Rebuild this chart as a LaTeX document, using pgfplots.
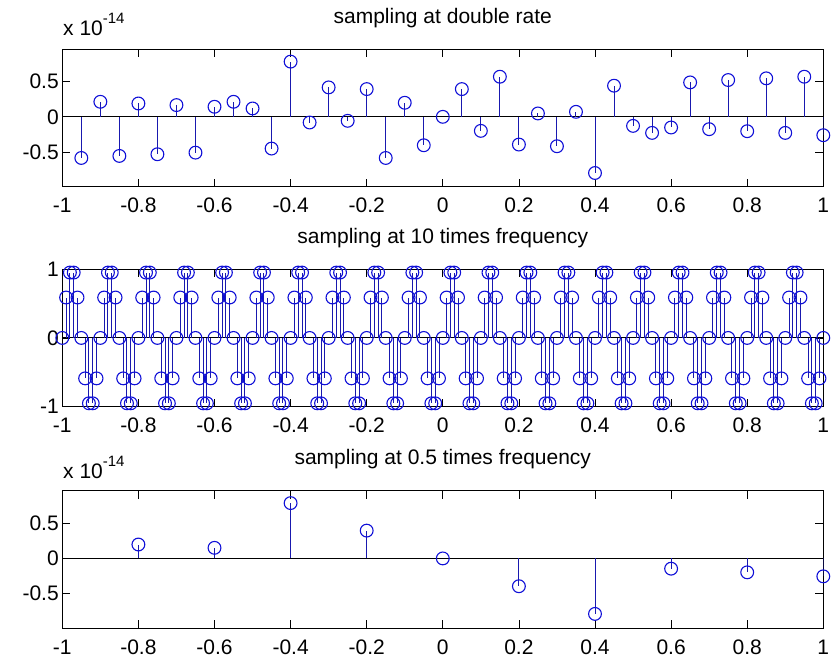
\documentclass[border=0pt]{standalone}
\usepackage{fontspec}
\setmainfont{Liberation Sans}
\usepackage{pgfplots}
\pgfplotsset{compat=1.18}
\definecolor{stemc}{RGB}{25,25,175}
\definecolor{markc}{RGB}{15,15,215}
\pgfplotsset{
  mlab/.style={
    scale only axis, width=761pt, height=137.5pt,
    anchor=south west,
    xmin=-1, xmax=1,
    xtick={-1,-0.8,-0.6,-0.4,-0.2,0,0.2,0.4,0.6,0.8,1},
    tick align=inside, major tick length=8pt,
    tick style={black, line width=0.8pt},
    axis line style={line width=1.2pt},
    tick label style={font=\fontsize{21}{24}\selectfont},
    /pgf/number format/assume math mode=true,
    xticklabel style={yshift=-8pt},
    title style={font=\fontsize{21}{24}\selectfont, anchor=base, yshift=20pt},
    clip marker paths=false,
  },
  stem/.style={ycomb, color=stemc, line width=1pt, mark=o, mark size=6.4pt,
    mark options={draw=markc, line width=1.1pt}},
  base/.style={black, line width=0.9pt, forget plot},
}
\begin{document}
\begin{tikzpicture}
\useasboundingbox (0,0) rectangle (832pt,660pt);

% top: sampling at double rate
\begin{axis}[mlab, at={(62.3pt,473.3pt)},
  ymin=-0.995, ymax=0.963, ytick={-0.5,0,0.5},
  title={sampling at double rate}]
  \addplot[base] coordinates {(-1,0) (1,0)};
  \addplot[stem] coordinates {
    (-0.95,-0.586) (-0.90,0.214) (-0.85,-0.557) (-0.80,0.190) (-0.75,-0.533)
    (-0.70,0.167) (-0.65,-0.510) (-0.60,0.143) (-0.55,0.214) (-0.50,0.119)
    (-0.45,-0.452) (-0.40,0.786) (-0.35,-0.081) (-0.30,0.419) (-0.25,-0.057)
    (-0.20,0.395) (-0.15,-0.586) (-0.10,0.200) (-0.05,-0.405) (0.00,0.000)
    (0.05,0.395) (0.10,-0.200) (0.15,0.571) (0.20,-0.395) (0.25,0.048)
    (0.30,-0.419) (0.35,0.071) (0.40,-0.800) (0.45,0.443) (0.50,-0.129)
    (0.55,-0.229) (0.60,-0.152) (0.65,0.490) (0.70,-0.176) (0.75,0.524)
    (0.80,-0.205) (0.85,0.548) (0.90,-0.229) (0.95,0.571) (1.00,-0.262)};
\end{axis}

% middle: sampling at 10 times frequency
\begin{axis}[mlab, at={(62.3pt,253.3pt)},
  ymin=-1, ymax=1, ytick={-1,0,1},
  title={sampling at 10 times frequency}]
  \addplot[base] coordinates {(-1,0) (1,0)};
  \addplot[stem] coordinates {
    (-1.00,0) (-0.99,0.588) (-0.98,0.951) (-0.97,0.951) (-0.96,0.588) (-0.95,0) (-0.94,-0.588) (-0.93,-0.951) (-0.92,-0.951) (-0.91,-0.588)
    (-0.90,0) (-0.89,0.588) (-0.88,0.951) (-0.87,0.951) (-0.86,0.588) (-0.85,0) (-0.84,-0.588) (-0.83,-0.951) (-0.82,-0.951) (-0.81,-0.588)
    (-0.80,0) (-0.79,0.588) (-0.78,0.951) (-0.77,0.951) (-0.76,0.588) (-0.75,0) (-0.74,-0.588) (-0.73,-0.951) (-0.72,-0.951) (-0.71,-0.588)
    (-0.70,0) (-0.69,0.588) (-0.68,0.951) (-0.67,0.951) (-0.66,0.588) (-0.65,0) (-0.64,-0.588) (-0.63,-0.951) (-0.62,-0.951) (-0.61,-0.588)
    (-0.60,0) (-0.59,0.588) (-0.58,0.951) (-0.57,0.951) (-0.56,0.588) (-0.55,0) (-0.54,-0.588) (-0.53,-0.951) (-0.52,-0.951) (-0.51,-0.588)
    (-0.50,0) (-0.49,0.588) (-0.48,0.951) (-0.47,0.951) (-0.46,0.588) (-0.45,0) (-0.44,-0.588) (-0.43,-0.951) (-0.42,-0.951) (-0.41,-0.588)
    (-0.40,0) (-0.39,0.588) (-0.38,0.951) (-0.37,0.951) (-0.36,0.588) (-0.35,0) (-0.34,-0.588) (-0.33,-0.951) (-0.32,-0.951) (-0.31,-0.588)
    (-0.30,0) (-0.29,0.588) (-0.28,0.951) (-0.27,0.951) (-0.26,0.588) (-0.25,0) (-0.24,-0.588) (-0.23,-0.951) (-0.22,-0.951) (-0.21,-0.588)
    (-0.20,0) (-0.19,0.588) (-0.18,0.951) (-0.17,0.951) (-0.16,0.588) (-0.15,0) (-0.14,-0.588) (-0.13,-0.951) (-0.12,-0.951) (-0.11,-0.588)
    (-0.10,0) (-0.09,0.588) (-0.08,0.951) (-0.07,0.951) (-0.06,0.588) (-0.05,0) (-0.04,-0.588) (-0.03,-0.951) (-0.02,-0.951) (-0.01,-0.588)
    (0.00,0) (0.01,0.588) (0.02,0.951) (0.03,0.951) (0.04,0.588) (0.05,0) (0.06,-0.588) (0.07,-0.951) (0.08,-0.951) (0.09,-0.588)
    (0.10,0) (0.11,0.588) (0.12,0.951) (0.13,0.951) (0.14,0.588) (0.15,0) (0.16,-0.588) (0.17,-0.951) (0.18,-0.951) (0.19,-0.588)
    (0.20,0) (0.21,0.588) (0.22,0.951) (0.23,0.951) (0.24,0.588) (0.25,0) (0.26,-0.588) (0.27,-0.951) (0.28,-0.951) (0.29,-0.588)
    (0.30,0) (0.31,0.588) (0.32,0.951) (0.33,0.951) (0.34,0.588) (0.35,0) (0.36,-0.588) (0.37,-0.951) (0.38,-0.951) (0.39,-0.588)
    (0.40,0) (0.41,0.588) (0.42,0.951) (0.43,0.951) (0.44,0.588) (0.45,0) (0.46,-0.588) (0.47,-0.951) (0.48,-0.951) (0.49,-0.588)
    (0.50,0) (0.51,0.588) (0.52,0.951) (0.53,0.951) (0.54,0.588) (0.55,0) (0.56,-0.588) (0.57,-0.951) (0.58,-0.951) (0.59,-0.588)
    (0.60,0) (0.61,0.588) (0.62,0.951) (0.63,0.951) (0.64,0.588) (0.65,0) (0.66,-0.588) (0.67,-0.951) (0.68,-0.951) (0.69,-0.588)
    (0.70,0) (0.71,0.588) (0.72,0.951) (0.73,0.951) (0.74,0.588) (0.75,0) (0.76,-0.588) (0.77,-0.951) (0.78,-0.951) (0.79,-0.588)
    (0.80,0) (0.81,0.588) (0.82,0.951) (0.83,0.951) (0.84,0.588) (0.85,0) (0.86,-0.588) (0.87,-0.951) (0.88,-0.951) (0.89,-0.588)
    (0.90,0) (0.91,0.588) (0.92,0.951) (0.93,0.951) (0.94,0.588) (0.95,0) (0.96,-0.588) (0.97,-0.951) (0.98,-0.951) (0.99,-0.588)
    (1.00,0)};
\end{axis}

% bottom: sampling at 0.5 times frequency
\begin{axis}[mlab, at={(62.3pt,31.7pt)},
  ymin=-0.995, ymax=0.963, ytick={-0.5,0,0.5},
  title={sampling at 0.5 times frequency}]
  \addplot[base] coordinates {(-1,0) (1,0)};
  \addplot[stem] coordinates {
    (-0.80,0.198) (-0.60,0.151) (-0.40,0.788) (-0.20,0.396) (0.00,0.000)
    (0.20,-0.396) (0.40,-0.790) (0.60,-0.146) (0.80,-0.198) (1.00,-0.255)};
\end{axis}

\node[anchor=base west, inner sep=0pt, font=\fontsize{21}{24}\selectfont]
  at (63pt,624pt) {x 10\raisebox{12pt}{\fontsize{15}{18}\selectfont -14}};
\node[anchor=base west, inner sep=0pt, font=\fontsize{21}{24}\selectfont]
  at (63pt,181.7pt) {x 10\raisebox{12pt}{\fontsize{15}{18}\selectfont -14}};
\end{tikzpicture}
\end{document}
